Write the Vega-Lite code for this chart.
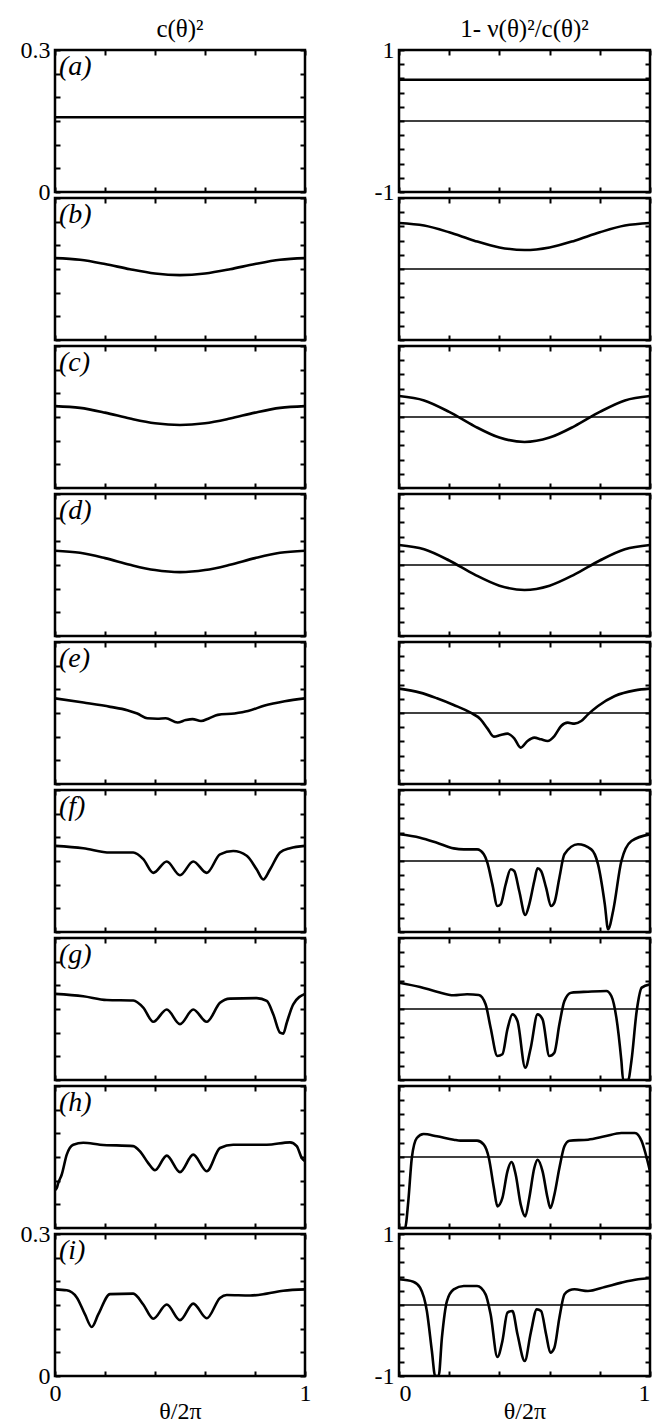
{
"$schema": "https://vega.github.io/schema/vega-lite/v6.json",
"padding": {"left": 18, "top": 15, "right": 0, "bottom": 0},
"background": "white",
"columns": 2,
"spacing": {"row": 6, "column": 94},
"bounds": "flush",
"config": {
 "view": {"stroke": "black", "strokeWidth": 2.5},
 "axis": {"domain": false, "grid": false, "ticks": true, "tickColor": "black", "tickWidth": 2, "tickSize": -5, "labelFont": "Liberation Serif", "labelFontSize": 24, "labelColor": "black", "labelFlush": false, "labelOverlap": false, "titleFont": "Liberation Serif", "titleFontSize": 24, "titleFontWeight": "normal", "titleColor": "black"},
 "title": {"font": "Liberation Serif", "fontSize": 25, "fontWeight": "normal", "color": "black"},
 "line": {"color": "black", "strokeWidth": 2.6, "interpolate": "monotone"},
 "rule": {"color": "black", "strokeWidth": 1.6},
 "text": {"font": "Liberation Serif", "fontSize": 28, "fontStyle": "italic", "color": "black", "align": "left", "baseline": "top"}
},
"datasets": {
 "La": [{"x":0,"y":0.158},{"x":1,"y":0.158}],
 "Ra": [{"x":0,"y":0.58},{"x":1,"y":0.58}],
 "Lb": [{"x":0,"y":0.173},{"x":0.1,"y":0.1696},{"x":0.2,"y":0.1606},{"x":0.3,"y":0.1494},{"x":0.4,"y":0.1404},{"x":0.5,"y":0.137},{"x":0.6,"y":0.1404},{"x":0.7,"y":0.1494},{"x":0.8,"y":0.1606},{"x":0.9,"y":0.1696},{"x":1,"y":0.173}],
 "Rb": [{"x":0,"y":0.648},{"x":0.1,"y":0.612},{"x":0.2,"y":0.517},{"x":0.3,"y":0.399},{"x":0.4,"y":0.304},{"x":0.5,"y":0.268},{"x":0.6,"y":0.304},{"x":0.7,"y":0.399},{"x":0.8,"y":0.517},{"x":0.9,"y":0.612},{"x":1,"y":0.648}],
 "Lc": [{"x":0,"y":0.173},{"x":0.1,"y":0.1692},{"x":0.2,"y":0.1592},{"x":0.3,"y":0.1468},{"x":0.4,"y":0.1368},{"x":0.5,"y":0.133},{"x":0.6,"y":0.1368},{"x":0.7,"y":0.1468},{"x":0.8,"y":0.1592},{"x":0.9,"y":0.1692},{"x":1,"y":0.173}],
 "Rc": [{"x":0,"y":0.296},{"x":0.1,"y":0.234},{"x":0.2,"y":0.072},{"x":0.3,"y":-0.128},{"x":0.4,"y":-0.29},{"x":0.5,"y":-0.352},{"x":0.6,"y":-0.29},{"x":0.7,"y":-0.128},{"x":0.8,"y":0.072},{"x":0.9,"y":0.234},{"x":1,"y":0.296}],
 "Ld": [{"x":0,"y":0.18},{"x":0.1,"y":0.1757},{"x":0.2,"y":0.1645},{"x":0.3,"y":0.1505},{"x":0.4,"y":0.1393},{"x":0.5,"y":0.135},{"x":0.6,"y":0.1393},{"x":0.7,"y":0.1505},{"x":0.8,"y":0.1645},{"x":0.9,"y":0.1757},{"x":1,"y":0.18}],
 "Rd": [{"x":0,"y":0.282},{"x":0.1,"y":0.221},{"x":0.2,"y":0.063},{"x":0.3,"y":-0.133},{"x":0.4,"y":-0.291},{"x":0.5,"y":-0.352},{"x":0.6,"y":-0.291},{"x":0.7,"y":-0.133},{"x":0.8,"y":0.063},{"x":0.9,"y":0.221},{"x":1,"y":0.282}],
 "Le": [{"x":0,"y":0.181},{"x":0.114,"y":0.172},{"x":0.221,"y":0.163},{"x":0.289,"y":0.156},{"x":0.329,"y":0.149},{"x":0.369,"y":0.139},{"x":0.409,"y":0.138},{"x":0.443,"y":0.139},{"x":0.49,"y":0.13},{"x":0.523,"y":0.135},{"x":0.55,"y":0.137},{"x":0.584,"y":0.133},{"x":0.617,"y":0.139},{"x":0.651,"y":0.146},{"x":0.718,"y":0.149},{"x":0.772,"y":0.154},{"x":0.839,"y":0.166},{"x":0.919,"y":0.175},{"x":1,"y":0.181}],
 "Re": [{"x":0,"y":0.343},{"x":0.084,"y":0.287},{"x":0.151,"y":0.207},{"x":0.218,"y":0.113},{"x":0.285,"y":0.005},{"x":0.325,"y":-0.089},{"x":0.352,"y":-0.216},{"x":0.378,"y":-0.333},{"x":0.405,"y":-0.31},{"x":0.432,"y":-0.291},{"x":0.459,"y":-0.357},{"x":0.485,"y":-0.488},{"x":0.512,"y":-0.394},{"x":0.539,"y":-0.347},{"x":0.566,"y":-0.371},{"x":0.592,"y":-0.394},{"x":0.619,"y":-0.324},{"x":0.646,"y":-0.183},{"x":0.672,"y":-0.136},{"x":0.699,"y":-0.15},{"x":0.726,"y":-0.113},{"x":0.753,"y":-0.019},{"x":0.793,"y":0.099},{"x":0.86,"y":0.24},{"x":0.94,"y":0.319},{"x":1,"y":0.343}],
 "Lf": [{"x":0,"y":0.182},{"x":0.113,"y":0.177},{"x":0.22,"y":0.168},{"x":0.313,"y":0.168},{"x":0.353,"y":0.154},{"x":0.393,"y":0.125},{"x":0.447,"y":0.149},{"x":0.5,"y":0.12},{"x":0.553,"y":0.149},{"x":0.607,"y":0.125},{"x":0.66,"y":0.164},{"x":0.713,"y":0.171},{"x":0.767,"y":0.161},{"x":0.807,"y":0.132},{"x":0.833,"y":0.111},{"x":0.86,"y":0.132},{"x":0.9,"y":0.168},{"x":0.94,"y":0.177},{"x":1,"y":0.182}],
 "Rf": [{"x":0,"y":0.376},{"x":0.084,"y":0.329},{"x":0.151,"y":0.258},{"x":0.218,"y":0.178},{"x":0.258,"y":0.164},{"x":0.311,"y":0.164},{"x":0.338,"y":0.094},{"x":0.352,"y":-0.024},{"x":0.372,"y":-0.329},{"x":0.392,"y":-0.634},{"x":0.405,"y":-0.61},{"x":0.425,"y":-0.329},{"x":0.445,"y":-0.117},{"x":0.459,"y":-0.141},{"x":0.479,"y":-0.423},{"x":0.503,"y":-0.761},{"x":0.519,"y":-0.61},{"x":0.539,"y":-0.282},{"x":0.552,"y":-0.103},{"x":0.566,"y":-0.141},{"x":0.586,"y":-0.376},{"x":0.606,"y":-0.634},{"x":0.619,"y":-0.587},{"x":0.639,"y":-0.235},{"x":0.659,"y":0.094},{"x":0.713,"y":0.235},{"x":0.766,"y":0.164},{"x":0.793,"y":-0.047},{"x":0.82,"y":-0.61},{"x":0.833,"y":-0.962},{"x":0.853,"y":-0.704},{"x":0.886,"y":0.0},{"x":0.926,"y":0.282},{"x":1,"y":0.376}],
 "Lg": [{"x":0,"y":0.182},{"x":0.113,"y":0.177},{"x":0.207,"y":0.169},{"x":0.313,"y":0.168},{"x":0.353,"y":0.153},{"x":0.393,"y":0.123},{"x":0.447,"y":0.149},{"x":0.5,"y":0.118},{"x":0.553,"y":0.149},{"x":0.607,"y":0.123},{"x":0.66,"y":0.163},{"x":0.7,"y":0.172},{"x":0.807,"y":0.173},{"x":0.847,"y":0.167},{"x":0.873,"y":0.139},{"x":0.9,"y":0.1},{"x":0.913,"y":0.098},{"x":0.927,"y":0.121},{"x":0.953,"y":0.16},{"x":1,"y":0.182}],
 "Rg": [{"x":0,"y":0.371},{"x":0.084,"y":0.31},{"x":0.151,"y":0.244},{"x":0.218,"y":0.193},{"x":0.271,"y":0.207},{"x":0.318,"y":0.197},{"x":0.345,"y":0.066},{"x":0.365,"y":-0.263},{"x":0.392,"y":-0.662},{"x":0.412,"y":-0.638},{"x":0.432,"y":-0.286},{"x":0.452,"y":-0.075},{"x":0.472,"y":-0.169},{"x":0.503,"y":-0.826},{"x":0.525,"y":-0.545},{"x":0.552,"y":-0.075},{"x":0.572,"y":-0.146},{"x":0.599,"y":-0.662},{"x":0.619,"y":-0.615},{"x":0.639,"y":-0.216},{"x":0.659,"y":0.113},{"x":0.686,"y":0.23},{"x":0.753,"y":0.244},{"x":0.826,"y":0.254},{"x":0.846,"y":0.183},{"x":0.866,"y":-0.122},{"x":0.886,"y":-0.732},{"x":0.893,"y":-1},{"x":0.913,"y":-1},{"x":0.926,"y":-0.732},{"x":0.947,"y":-0.028},{"x":0.967,"y":0.301},{"x":1,"y":0.347}],
 "Lh": [{"x":0,"y":0.08},{"x":0.007,"y":0.0845},{"x":0.013,"y":0.095},{"x":0.027,"y":0.113},{"x":0.047,"y":0.155},{"x":0.073,"y":0.176},{"x":0.113,"y":0.18},{"x":0.18,"y":0.176},{"x":0.313,"y":0.173},{"x":0.34,"y":0.162},{"x":0.373,"y":0.137},{"x":0.4,"y":0.122},{"x":0.447,"y":0.153},{"x":0.5,"y":0.118},{"x":0.553,"y":0.155},{"x":0.607,"y":0.12},{"x":0.66,"y":0.169},{"x":0.713,"y":0.176},{"x":0.847,"y":0.176},{"x":0.94,"y":0.181},{"x":0.967,"y":0.173},{"x":0.987,"y":0.148},{"x":1,"y":0.141}],
 "Rh": [{"x":0,"y":-1},{"x":0.024,"y":-1},{"x":0.037,"y":-0.624},{"x":0.051,"y":-0.014},{"x":0.071,"y":0.268},{"x":0.098,"y":0.324},{"x":0.151,"y":0.291},{"x":0.218,"y":0.244},{"x":0.245,"y":0.23},{"x":0.311,"y":0.23},{"x":0.338,"y":0.174},{"x":0.358,"y":-0.014},{"x":0.378,"y":-0.437},{"x":0.392,"y":-0.695},{"x":0.412,"y":-0.577},{"x":0.432,"y":-0.202},{"x":0.448,"y":-0.07},{"x":0.465,"y":-0.249},{"x":0.485,"y":-0.671},{"x":0.503,"y":-0.836},{"x":0.519,"y":-0.577},{"x":0.539,"y":-0.155},{"x":0.552,"y":-0.038},{"x":0.572,"y":-0.202},{"x":0.592,"y":-0.577},{"x":0.603,"y":-0.718},{"x":0.619,"y":-0.531},{"x":0.639,"y":-0.155},{"x":0.659,"y":0.151},{"x":0.679,"y":0.23},{"x":0.753,"y":0.244},{"x":0.82,"y":0.291},{"x":0.886,"y":0.338},{"x":0.94,"y":0.338},{"x":0.967,"y":0.221},{"x":0.987,"y":-0.014},{"x":1,"y":-0.202}],
 "Li": [{"x":0,"y":0.183},{"x":0.047,"y":0.181},{"x":0.087,"y":0.166},{"x":0.12,"y":0.13},{"x":0.147,"y":0.1035},{"x":0.173,"y":0.13},{"x":0.22,"y":0.173},{"x":0.313,"y":0.174},{"x":0.353,"y":0.151},{"x":0.393,"y":0.121},{"x":0.447,"y":0.151},{"x":0.5,"y":0.118},{"x":0.553,"y":0.153},{"x":0.607,"y":0.122},{"x":0.66,"y":0.165},{"x":0.687,"y":0.171},{"x":0.78,"y":0.17},{"x":0.847,"y":0.174},{"x":0.913,"y":0.18},{"x":1,"y":0.183}],
 "Ri": [{"x":0,"y":0.362},{"x":0.057,"y":0.329},{"x":0.084,"y":0.244},{"x":0.111,"y":-0.085},{"x":0.131,"y":-0.648},{"x":0.144,"y":-1},{"x":0.158,"y":-1},{"x":0.171,"y":-0.46},{"x":0.191,"y":0.056},{"x":0.218,"y":0.221},{"x":0.258,"y":0.268},{"x":0.311,"y":0.268},{"x":0.345,"y":0.15},{"x":0.365,"y":-0.131},{"x":0.392,"y":-0.732},{"x":0.412,"y":-0.507},{"x":0.432,"y":-0.108},{"x":0.452,"y":-0.085},{"x":0.472,"y":-0.413},{"x":0.501,"y":-0.789},{"x":0.525,"y":-0.39},{"x":0.549,"y":-0.061},{"x":0.566,"y":-0.085},{"x":0.586,"y":-0.413},{"x":0.603,"y":-0.671},{"x":0.619,"y":-0.601},{"x":0.639,"y":-0.178},{"x":0.659,"y":0.15},{"x":0.679,"y":0.207},{"x":0.699,"y":0.221},{"x":0.753,"y":0.197},{"x":0.82,"y":0.254},{"x":0.886,"y":0.315},{"x":0.953,"y":0.362},{"x":1,"y":0.376}]
},
"concat": [
{"width":250,"height":142,"title":{"text":"c(θ)²","frame":"group","anchor":"middle","offset":-4},"layer":[
 {"data":{"name":"La"},"mark":{"type":"line","clip":true},"encoding":{"x":{"field":"x","type":"quantitative","scale":{"domain":[0,1],"nice":false,"zero":false},"axis":{"orient":"bottom","values":[0,0.2,0.4,0.6,0.8,1],"labels":false,"title":null}},"y":{"field":"y","type":"quantitative","scale":{"domain":[0,0.3],"nice":false,"zero":false},"axis":{"orient":"left","values":[0,0.05,0.1,0.15,0.2,0.25,0.3],"labelExpr":"datum.value == 0 ? '0' : datum.value == 0.3 ? '0.3' : ''","labelPadding":10,"title":null}}}},
 {"data":{"values":[{"t":"(a)"}]},"mark":{"type":"text","dx":4,"dy":3},"encoding":{"x":{"datum":0,"type":"quantitative","scale":{"domain":[0,1],"nice":false,"zero":false},"axis":{"orient":"top","values":[0,0.2,0.4,0.6,0.8,1],"labels":false,"title":null}},"y":{"datum":0.3,"type":"quantitative","scale":{"domain":[0,0.3],"nice":false,"zero":false},"axis":{"orient":"right","values":[0,0.05,0.1,0.15,0.2,0.25,0.3],"labels":false,"title":null}},"text":{"field":"t"}}}
],"resolve":{"axis":{"x":"independent","y":"independent"}}},
{"width":251,"height":142,"title":{"text":"1- ν(θ)²/c(θ)²","frame":"group","anchor":"middle","offset":-4},"layer":[
 {"data":{"values":[{"z":0}]},"mark":{"type":"rule"},"encoding":{"y":{"field":"z","type":"quantitative","scale":{"domain":[-1,1],"nice":false,"zero":false},"axis":null}}},
 {"data":{"name":"Ra"},"mark":{"type":"line","clip":true},"encoding":{"x":{"field":"x","type":"quantitative","scale":{"domain":[0,1],"nice":false,"zero":false},"axis":{"orient":"bottom","values":[0,0.2,0.4,0.6,0.8,1],"labels":false,"title":null}},"y":{"field":"y","type":"quantitative","scale":{"domain":[-1,1],"nice":false,"zero":false},"axis":{"orient":"left","values":[-1,-0.8,-0.6,-0.4,-0.2,0,0.2,0.4,0.6,0.8,1],"labelExpr":"datum.value == 1 ? '1' : datum.value == -1 ? '-1' : ''","labelPadding":10,"title":null}}}},
 {"data":{"values":[{"t":""}]},"mark":{"type":"text"},"encoding":{"x":{"datum":0,"type":"quantitative","scale":{"domain":[0,1],"nice":false,"zero":false},"axis":{"orient":"top","values":[0,0.2,0.4,0.6,0.8,1],"labels":false,"title":null}},"y":{"datum":1,"type":"quantitative","scale":{"domain":[-1,1],"nice":false,"zero":false},"axis":{"orient":"right","values":[-1,-0.8,-0.6,-0.4,-0.2,0,0.2,0.4,0.6,0.8,1],"labels":false,"title":null}},"text":{"field":"t"}}}
],"resolve":{"axis":{"x":"independent","y":"independent"}}},
{"width":250,"height":142,"layer":[
 {"data":{"name":"Lb"},"mark":{"type":"line","clip":true},"encoding":{"x":{"field":"x","type":"quantitative","scale":{"domain":[0,1],"nice":false,"zero":false},"axis":{"orient":"bottom","values":[0,0.2,0.4,0.6,0.8,1],"labels":false,"title":null}},"y":{"field":"y","type":"quantitative","scale":{"domain":[0,0.3],"nice":false,"zero":false},"axis":{"orient":"left","values":[0,0.05,0.1,0.15,0.2,0.25,0.3],"labels":false,"title":null}}}},
 {"data":{"values":[{"t":"(b)"}]},"mark":{"type":"text","dx":4,"dy":3},"encoding":{"x":{"datum":0,"type":"quantitative","scale":{"domain":[0,1],"nice":false,"zero":false},"axis":{"orient":"top","values":[0,0.2,0.4,0.6,0.8,1],"labels":false,"title":null}},"y":{"datum":0.3,"type":"quantitative","scale":{"domain":[0,0.3],"nice":false,"zero":false},"axis":{"orient":"right","values":[0,0.05,0.1,0.15,0.2,0.25,0.3],"labels":false,"title":null}},"text":{"field":"t"}}}
],"resolve":{"axis":{"x":"independent","y":"independent"}}},
{"width":251,"height":142,"layer":[
 {"data":{"values":[{"z":0}]},"mark":{"type":"rule"},"encoding":{"y":{"field":"z","type":"quantitative","scale":{"domain":[-1,1],"nice":false,"zero":false},"axis":null}}},
 {"data":{"name":"Rb"},"mark":{"type":"line","clip":true},"encoding":{"x":{"field":"x","type":"quantitative","scale":{"domain":[0,1],"nice":false,"zero":false},"axis":{"orient":"bottom","values":[0,0.2,0.4,0.6,0.8,1],"labels":false,"title":null}},"y":{"field":"y","type":"quantitative","scale":{"domain":[-1,1],"nice":false,"zero":false},"axis":{"orient":"left","values":[-1,-0.8,-0.6,-0.4,-0.2,0,0.2,0.4,0.6,0.8,1],"labels":false,"title":null}}}},
 {"data":{"values":[{"t":""}]},"mark":{"type":"text"},"encoding":{"x":{"datum":0,"type":"quantitative","scale":{"domain":[0,1],"nice":false,"zero":false},"axis":{"orient":"top","values":[0,0.2,0.4,0.6,0.8,1],"labels":false,"title":null}},"y":{"datum":1,"type":"quantitative","scale":{"domain":[-1,1],"nice":false,"zero":false},"axis":{"orient":"right","values":[-1,-0.8,-0.6,-0.4,-0.2,0,0.2,0.4,0.6,0.8,1],"labels":false,"title":null}},"text":{"field":"t"}}}
],"resolve":{"axis":{"x":"independent","y":"independent"}}},
{"width":250,"height":142,"layer":[
 {"data":{"name":"Lc"},"mark":{"type":"line","clip":true},"encoding":{"x":{"field":"x","type":"quantitative","scale":{"domain":[0,1],"nice":false,"zero":false},"axis":{"orient":"bottom","values":[0,0.2,0.4,0.6,0.8,1],"labels":false,"title":null}},"y":{"field":"y","type":"quantitative","scale":{"domain":[0,0.3],"nice":false,"zero":false},"axis":{"orient":"left","values":[0,0.05,0.1,0.15,0.2,0.25,0.3],"labels":false,"title":null}}}},
 {"data":{"values":[{"t":"(c)"}]},"mark":{"type":"text","dx":4,"dy":3},"encoding":{"x":{"datum":0,"type":"quantitative","scale":{"domain":[0,1],"nice":false,"zero":false},"axis":{"orient":"top","values":[0,0.2,0.4,0.6,0.8,1],"labels":false,"title":null}},"y":{"datum":0.3,"type":"quantitative","scale":{"domain":[0,0.3],"nice":false,"zero":false},"axis":{"orient":"right","values":[0,0.05,0.1,0.15,0.2,0.25,0.3],"labels":false,"title":null}},"text":{"field":"t"}}}
],"resolve":{"axis":{"x":"independent","y":"independent"}}},
{"width":251,"height":142,"layer":[
 {"data":{"values":[{"z":0}]},"mark":{"type":"rule"},"encoding":{"y":{"field":"z","type":"quantitative","scale":{"domain":[-1,1],"nice":false,"zero":false},"axis":null}}},
 {"data":{"name":"Rc"},"mark":{"type":"line","clip":true},"encoding":{"x":{"field":"x","type":"quantitative","scale":{"domain":[0,1],"nice":false,"zero":false},"axis":{"orient":"bottom","values":[0,0.2,0.4,0.6,0.8,1],"labels":false,"title":null}},"y":{"field":"y","type":"quantitative","scale":{"domain":[-1,1],"nice":false,"zero":false},"axis":{"orient":"left","values":[-1,-0.8,-0.6,-0.4,-0.2,0,0.2,0.4,0.6,0.8,1],"labels":false,"title":null}}}},
 {"data":{"values":[{"t":""}]},"mark":{"type":"text"},"encoding":{"x":{"datum":0,"type":"quantitative","scale":{"domain":[0,1],"nice":false,"zero":false},"axis":{"orient":"top","values":[0,0.2,0.4,0.6,0.8,1],"labels":false,"title":null}},"y":{"datum":1,"type":"quantitative","scale":{"domain":[-1,1],"nice":false,"zero":false},"axis":{"orient":"right","values":[-1,-0.8,-0.6,-0.4,-0.2,0,0.2,0.4,0.6,0.8,1],"labels":false,"title":null}},"text":{"field":"t"}}}
],"resolve":{"axis":{"x":"independent","y":"independent"}}},
{"width":250,"height":142,"layer":[
 {"data":{"name":"Ld"},"mark":{"type":"line","clip":true},"encoding":{"x":{"field":"x","type":"quantitative","scale":{"domain":[0,1],"nice":false,"zero":false},"axis":{"orient":"bottom","values":[0,0.2,0.4,0.6,0.8,1],"labels":false,"title":null}},"y":{"field":"y","type":"quantitative","scale":{"domain":[0,0.3],"nice":false,"zero":false},"axis":{"orient":"left","values":[0,0.05,0.1,0.15,0.2,0.25,0.3],"labels":false,"title":null}}}},
 {"data":{"values":[{"t":"(d)"}]},"mark":{"type":"text","dx":4,"dy":3},"encoding":{"x":{"datum":0,"type":"quantitative","scale":{"domain":[0,1],"nice":false,"zero":false},"axis":{"orient":"top","values":[0,0.2,0.4,0.6,0.8,1],"labels":false,"title":null}},"y":{"datum":0.3,"type":"quantitative","scale":{"domain":[0,0.3],"nice":false,"zero":false},"axis":{"orient":"right","values":[0,0.05,0.1,0.15,0.2,0.25,0.3],"labels":false,"title":null}},"text":{"field":"t"}}}
],"resolve":{"axis":{"x":"independent","y":"independent"}}},
{"width":251,"height":142,"layer":[
 {"data":{"values":[{"z":0}]},"mark":{"type":"rule"},"encoding":{"y":{"field":"z","type":"quantitative","scale":{"domain":[-1,1],"nice":false,"zero":false},"axis":null}}},
 {"data":{"name":"Rd"},"mark":{"type":"line","clip":true},"encoding":{"x":{"field":"x","type":"quantitative","scale":{"domain":[0,1],"nice":false,"zero":false},"axis":{"orient":"bottom","values":[0,0.2,0.4,0.6,0.8,1],"labels":false,"title":null}},"y":{"field":"y","type":"quantitative","scale":{"domain":[-1,1],"nice":false,"zero":false},"axis":{"orient":"left","values":[-1,-0.8,-0.6,-0.4,-0.2,0,0.2,0.4,0.6,0.8,1],"labels":false,"title":null}}}},
 {"data":{"values":[{"t":""}]},"mark":{"type":"text"},"encoding":{"x":{"datum":0,"type":"quantitative","scale":{"domain":[0,1],"nice":false,"zero":false},"axis":{"orient":"top","values":[0,0.2,0.4,0.6,0.8,1],"labels":false,"title":null}},"y":{"datum":1,"type":"quantitative","scale":{"domain":[-1,1],"nice":false,"zero":false},"axis":{"orient":"right","values":[-1,-0.8,-0.6,-0.4,-0.2,0,0.2,0.4,0.6,0.8,1],"labels":false,"title":null}},"text":{"field":"t"}}}
],"resolve":{"axis":{"x":"independent","y":"independent"}}},
{"width":250,"height":142,"layer":[
 {"data":{"name":"Le"},"mark":{"type":"line","clip":true},"encoding":{"x":{"field":"x","type":"quantitative","scale":{"domain":[0,1],"nice":false,"zero":false},"axis":{"orient":"bottom","values":[0,0.2,0.4,0.6,0.8,1],"labels":false,"title":null}},"y":{"field":"y","type":"quantitative","scale":{"domain":[0,0.3],"nice":false,"zero":false},"axis":{"orient":"left","values":[0,0.05,0.1,0.15,0.2,0.25,0.3],"labels":false,"title":null}}}},
 {"data":{"values":[{"t":"(e)"}]},"mark":{"type":"text","dx":4,"dy":3},"encoding":{"x":{"datum":0,"type":"quantitative","scale":{"domain":[0,1],"nice":false,"zero":false},"axis":{"orient":"top","values":[0,0.2,0.4,0.6,0.8,1],"labels":false,"title":null}},"y":{"datum":0.3,"type":"quantitative","scale":{"domain":[0,0.3],"nice":false,"zero":false},"axis":{"orient":"right","values":[0,0.05,0.1,0.15,0.2,0.25,0.3],"labels":false,"title":null}},"text":{"field":"t"}}}
],"resolve":{"axis":{"x":"independent","y":"independent"}}},
{"width":251,"height":142,"layer":[
 {"data":{"values":[{"z":0}]},"mark":{"type":"rule"},"encoding":{"y":{"field":"z","type":"quantitative","scale":{"domain":[-1,1],"nice":false,"zero":false},"axis":null}}},
 {"data":{"name":"Re"},"mark":{"type":"line","clip":true},"encoding":{"x":{"field":"x","type":"quantitative","scale":{"domain":[0,1],"nice":false,"zero":false},"axis":{"orient":"bottom","values":[0,0.2,0.4,0.6,0.8,1],"labels":false,"title":null}},"y":{"field":"y","type":"quantitative","scale":{"domain":[-1,1],"nice":false,"zero":false},"axis":{"orient":"left","values":[-1,-0.8,-0.6,-0.4,-0.2,0,0.2,0.4,0.6,0.8,1],"labels":false,"title":null}}}},
 {"data":{"values":[{"t":""}]},"mark":{"type":"text"},"encoding":{"x":{"datum":0,"type":"quantitative","scale":{"domain":[0,1],"nice":false,"zero":false},"axis":{"orient":"top","values":[0,0.2,0.4,0.6,0.8,1],"labels":false,"title":null}},"y":{"datum":1,"type":"quantitative","scale":{"domain":[-1,1],"nice":false,"zero":false},"axis":{"orient":"right","values":[-1,-0.8,-0.6,-0.4,-0.2,0,0.2,0.4,0.6,0.8,1],"labels":false,"title":null}},"text":{"field":"t"}}}
],"resolve":{"axis":{"x":"independent","y":"independent"}}},
{"width":250,"height":142,"layer":[
 {"data":{"name":"Lf"},"mark":{"type":"line","clip":true},"encoding":{"x":{"field":"x","type":"quantitative","scale":{"domain":[0,1],"nice":false,"zero":false},"axis":{"orient":"bottom","values":[0,0.2,0.4,0.6,0.8,1],"labels":false,"title":null}},"y":{"field":"y","type":"quantitative","scale":{"domain":[0,0.3],"nice":false,"zero":false},"axis":{"orient":"left","values":[0,0.05,0.1,0.15,0.2,0.25,0.3],"labels":false,"title":null}}}},
 {"data":{"values":[{"t":"(f)"}]},"mark":{"type":"text","dx":4,"dy":3},"encoding":{"x":{"datum":0,"type":"quantitative","scale":{"domain":[0,1],"nice":false,"zero":false},"axis":{"orient":"top","values":[0,0.2,0.4,0.6,0.8,1],"labels":false,"title":null}},"y":{"datum":0.3,"type":"quantitative","scale":{"domain":[0,0.3],"nice":false,"zero":false},"axis":{"orient":"right","values":[0,0.05,0.1,0.15,0.2,0.25,0.3],"labels":false,"title":null}},"text":{"field":"t"}}}
],"resolve":{"axis":{"x":"independent","y":"independent"}}},
{"width":251,"height":142,"layer":[
 {"data":{"values":[{"z":0}]},"mark":{"type":"rule"},"encoding":{"y":{"field":"z","type":"quantitative","scale":{"domain":[-1,1],"nice":false,"zero":false},"axis":null}}},
 {"data":{"name":"Rf"},"mark":{"type":"line","clip":true},"encoding":{"x":{"field":"x","type":"quantitative","scale":{"domain":[0,1],"nice":false,"zero":false},"axis":{"orient":"bottom","values":[0,0.2,0.4,0.6,0.8,1],"labels":false,"title":null}},"y":{"field":"y","type":"quantitative","scale":{"domain":[-1,1],"nice":false,"zero":false},"axis":{"orient":"left","values":[-1,-0.8,-0.6,-0.4,-0.2,0,0.2,0.4,0.6,0.8,1],"labels":false,"title":null}}}},
 {"data":{"values":[{"t":""}]},"mark":{"type":"text"},"encoding":{"x":{"datum":0,"type":"quantitative","scale":{"domain":[0,1],"nice":false,"zero":false},"axis":{"orient":"top","values":[0,0.2,0.4,0.6,0.8,1],"labels":false,"title":null}},"y":{"datum":1,"type":"quantitative","scale":{"domain":[-1,1],"nice":false,"zero":false},"axis":{"orient":"right","values":[-1,-0.8,-0.6,-0.4,-0.2,0,0.2,0.4,0.6,0.8,1],"labels":false,"title":null}},"text":{"field":"t"}}}
],"resolve":{"axis":{"x":"independent","y":"independent"}}},
{"width":250,"height":142,"layer":[
 {"data":{"name":"Lg"},"mark":{"type":"line","clip":true},"encoding":{"x":{"field":"x","type":"quantitative","scale":{"domain":[0,1],"nice":false,"zero":false},"axis":{"orient":"bottom","values":[0,0.2,0.4,0.6,0.8,1],"labels":false,"title":null}},"y":{"field":"y","type":"quantitative","scale":{"domain":[0,0.3],"nice":false,"zero":false},"axis":{"orient":"left","values":[0,0.05,0.1,0.15,0.2,0.25,0.3],"labels":false,"title":null}}}},
 {"data":{"values":[{"t":"(g)"}]},"mark":{"type":"text","dx":4,"dy":3},"encoding":{"x":{"datum":0,"type":"quantitative","scale":{"domain":[0,1],"nice":false,"zero":false},"axis":{"orient":"top","values":[0,0.2,0.4,0.6,0.8,1],"labels":false,"title":null}},"y":{"datum":0.3,"type":"quantitative","scale":{"domain":[0,0.3],"nice":false,"zero":false},"axis":{"orient":"right","values":[0,0.05,0.1,0.15,0.2,0.25,0.3],"labels":false,"title":null}},"text":{"field":"t"}}}
],"resolve":{"axis":{"x":"independent","y":"independent"}}},
{"width":251,"height":142,"layer":[
 {"data":{"values":[{"z":0}]},"mark":{"type":"rule"},"encoding":{"y":{"field":"z","type":"quantitative","scale":{"domain":[-1,1],"nice":false,"zero":false},"axis":null}}},
 {"data":{"name":"Rg"},"mark":{"type":"line","clip":true},"encoding":{"x":{"field":"x","type":"quantitative","scale":{"domain":[0,1],"nice":false,"zero":false},"axis":{"orient":"bottom","values":[0,0.2,0.4,0.6,0.8,1],"labels":false,"title":null}},"y":{"field":"y","type":"quantitative","scale":{"domain":[-1,1],"nice":false,"zero":false},"axis":{"orient":"left","values":[-1,-0.8,-0.6,-0.4,-0.2,0,0.2,0.4,0.6,0.8,1],"labels":false,"title":null}}}},
 {"data":{"values":[{"t":""}]},"mark":{"type":"text"},"encoding":{"x":{"datum":0,"type":"quantitative","scale":{"domain":[0,1],"nice":false,"zero":false},"axis":{"orient":"top","values":[0,0.2,0.4,0.6,0.8,1],"labels":false,"title":null}},"y":{"datum":1,"type":"quantitative","scale":{"domain":[-1,1],"nice":false,"zero":false},"axis":{"orient":"right","values":[-1,-0.8,-0.6,-0.4,-0.2,0,0.2,0.4,0.6,0.8,1],"labels":false,"title":null}},"text":{"field":"t"}}}
],"resolve":{"axis":{"x":"independent","y":"independent"}}},
{"width":250,"height":142,"layer":[
 {"data":{"name":"Lh"},"mark":{"type":"line","clip":true},"encoding":{"x":{"field":"x","type":"quantitative","scale":{"domain":[0,1],"nice":false,"zero":false},"axis":{"orient":"bottom","values":[0,0.2,0.4,0.6,0.8,1],"labels":false,"title":null}},"y":{"field":"y","type":"quantitative","scale":{"domain":[0,0.3],"nice":false,"zero":false},"axis":{"orient":"left","values":[0,0.05,0.1,0.15,0.2,0.25,0.3],"labels":false,"title":null}}}},
 {"data":{"values":[{"t":"(h)"}]},"mark":{"type":"text","dx":4,"dy":3},"encoding":{"x":{"datum":0,"type":"quantitative","scale":{"domain":[0,1],"nice":false,"zero":false},"axis":{"orient":"top","values":[0,0.2,0.4,0.6,0.8,1],"labels":false,"title":null}},"y":{"datum":0.3,"type":"quantitative","scale":{"domain":[0,0.3],"nice":false,"zero":false},"axis":{"orient":"right","values":[0,0.05,0.1,0.15,0.2,0.25,0.3],"labels":false,"title":null}},"text":{"field":"t"}}}
],"resolve":{"axis":{"x":"independent","y":"independent"}}},
{"width":251,"height":142,"layer":[
 {"data":{"values":[{"z":0}]},"mark":{"type":"rule"},"encoding":{"y":{"field":"z","type":"quantitative","scale":{"domain":[-1,1],"nice":false,"zero":false},"axis":null}}},
 {"data":{"name":"Rh"},"mark":{"type":"line","clip":true},"encoding":{"x":{"field":"x","type":"quantitative","scale":{"domain":[0,1],"nice":false,"zero":false},"axis":{"orient":"bottom","values":[0,0.2,0.4,0.6,0.8,1],"labels":false,"title":null}},"y":{"field":"y","type":"quantitative","scale":{"domain":[-1,1],"nice":false,"zero":false},"axis":{"orient":"left","values":[-1,-0.8,-0.6,-0.4,-0.2,0,0.2,0.4,0.6,0.8,1],"labels":false,"title":null}}}},
 {"data":{"values":[{"t":""}]},"mark":{"type":"text"},"encoding":{"x":{"datum":0,"type":"quantitative","scale":{"domain":[0,1],"nice":false,"zero":false},"axis":{"orient":"top","values":[0,0.2,0.4,0.6,0.8,1],"labels":false,"title":null}},"y":{"datum":1,"type":"quantitative","scale":{"domain":[-1,1],"nice":false,"zero":false},"axis":{"orient":"right","values":[-1,-0.8,-0.6,-0.4,-0.2,0,0.2,0.4,0.6,0.8,1],"labels":false,"title":null}},"text":{"field":"t"}}}
],"resolve":{"axis":{"x":"independent","y":"independent"}}},
{"width":250,"height":142,"layer":[
 {"data":{"name":"Li"},"mark":{"type":"line","clip":true},"encoding":{"x":{"field":"x","type":"quantitative","scale":{"domain":[0,1],"nice":false,"zero":false},"axis":{"orient":"bottom","values":[0,0.2,0.4,0.6,0.8,1],"labelExpr":"datum.value == 0 ? '0' : datum.value == 1 ? '1' : ''","labelPadding":10,"title":"θ/2π","titlePadding":-6}},"y":{"field":"y","type":"quantitative","scale":{"domain":[0,0.3],"nice":false,"zero":false},"axis":{"orient":"left","values":[0,0.05,0.1,0.15,0.2,0.25,0.3],"labelExpr":"datum.value == 0 ? '0' : datum.value == 0.3 ? '0.3' : ''","labelPadding":10,"title":null}}}},
 {"data":{"values":[{"t":"(i)"}]},"mark":{"type":"text","dx":4,"dy":3},"encoding":{"x":{"datum":0,"type":"quantitative","scale":{"domain":[0,1],"nice":false,"zero":false},"axis":{"orient":"top","values":[0,0.2,0.4,0.6,0.8,1],"labels":false,"title":null}},"y":{"datum":0.3,"type":"quantitative","scale":{"domain":[0,0.3],"nice":false,"zero":false},"axis":{"orient":"right","values":[0,0.05,0.1,0.15,0.2,0.25,0.3],"labels":false,"title":null}},"text":{"field":"t"}}}
],"resolve":{"axis":{"x":"independent","y":"independent"}}},
{"width":251,"height":142,"layer":[
 {"data":{"values":[{"z":0}]},"mark":{"type":"rule"},"encoding":{"y":{"field":"z","type":"quantitative","scale":{"domain":[-1,1],"nice":false,"zero":false},"axis":null}}},
 {"data":{"name":"Ri"},"mark":{"type":"line","clip":true},"encoding":{"x":{"field":"x","type":"quantitative","scale":{"domain":[0,1],"nice":false,"zero":false},"axis":{"orient":"bottom","values":[0,0.2,0.4,0.6,0.8,1],"labelExpr":"datum.value == 0 ? '0' : datum.value == 1 ? '1' : ''","labelFlush":true,"labelPadding":10,"title":"θ/2π","titlePadding":-6}},"y":{"field":"y","type":"quantitative","scale":{"domain":[-1,1],"nice":false,"zero":false},"axis":{"orient":"left","values":[-1,-0.8,-0.6,-0.4,-0.2,0,0.2,0.4,0.6,0.8,1],"labelExpr":"datum.value == 1 ? '1' : datum.value == -1 ? '-1' : ''","labelPadding":10,"title":null}}}},
 {"data":{"values":[{"t":""}]},"mark":{"type":"text"},"encoding":{"x":{"datum":0,"type":"quantitative","scale":{"domain":[0,1],"nice":false,"zero":false},"axis":{"orient":"top","values":[0,0.2,0.4,0.6,0.8,1],"labels":false,"title":null}},"y":{"datum":1,"type":"quantitative","scale":{"domain":[-1,1],"nice":false,"zero":false},"axis":{"orient":"right","values":[-1,-0.8,-0.6,-0.4,-0.2,0,0.2,0.4,0.6,0.8,1],"labels":false,"title":null}},"text":{"field":"t"}}}
],"resolve":{"axis":{"x":"independent","y":"independent"}}}
]
}
